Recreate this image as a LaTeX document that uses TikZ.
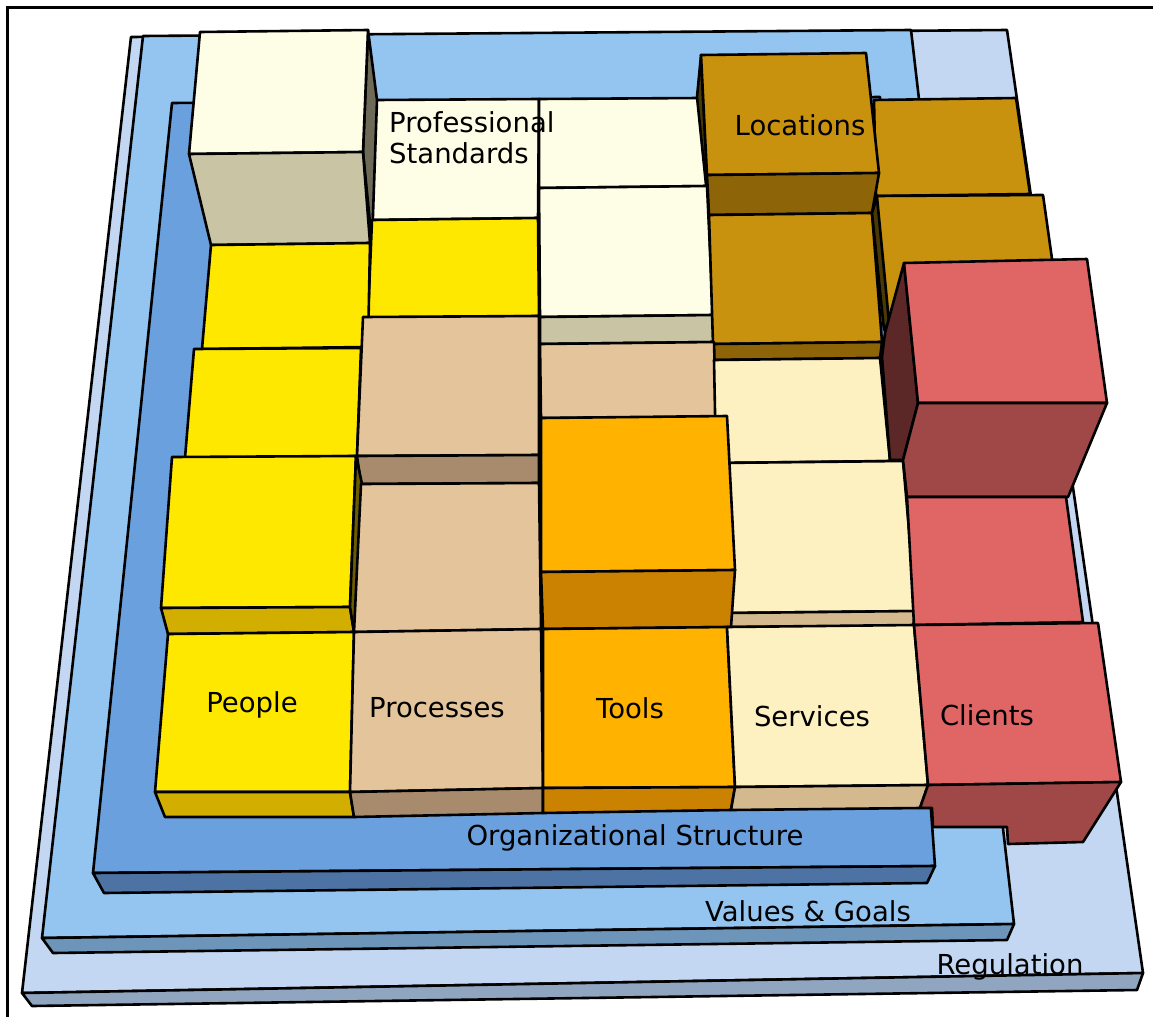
\documentclass[tikz,border=0pt]{standalone}
\usepackage{fontspec}
\setmainfont{DejaVu Sans}

\definecolor{regtop}{HTML}{C3D7F2}
\definecolor{regfront}{HTML}{8FA5C0}
\definecolor{valtop}{HTML}{93C5F0}
\definecolor{valfront}{HTML}{6D95B9}
\definecolor{orgtop}{HTML}{6AA0DE}
\definecolor{orgfront}{HTML}{4D73A5}
\definecolor{peopletop}{HTML}{FFE800}
\definecolor{peoplefront}{HTML}{D2AE00}
\definecolor{peopleside}{HTML}{6B5C00}
\definecolor{proctop}{HTML}{E4C59B}
\definecolor{procfront}{HTML}{A78B6C}
\definecolor{tooltop}{HTML}{FFB300}
\definecolor{toolfront}{HTML}{CA8200}
\definecolor{servtop}{HTML}{FDF0C1}
\definecolor{servfront}{HTML}{D4B98E}
\definecolor{clienttop}{HTML}{E06666}
\definecolor{clientfront}{HTML}{A04747}
\definecolor{clientside}{HTML}{5B2727}
\definecolor{stdtop}{HTML}{FEFDE5}
\definecolor{stdfront}{HTML}{C9C5A4}
\definecolor{stdside}{HTML}{6D6A57}
\definecolor{loctop}{HTML}{C8910E}
\definecolor{locfront}{HTML}{8D6407}
\definecolor{locside}{HTML}{4B3905}

\tikzset{
  face/.style={draw=black, line width=2.6pt, line join=round},
  label/.style={inner sep=0pt, text=black, font=\fontsize{27.5}{31}\selectfont}
}

\begin{document}
\begin{tikzpicture}[x=1pt,y=-1pt]
   \useasboundingbox (0,0) rectangle (1153,1017);
   \fill[white] (0,0) rectangle (1153,1017);
   \draw[line width=3pt] (7,1017) -- (7,7) -- (1153,7);

   % plates
   \draw[face, fill=regtop] (131,37) -- (1007,30) -- (1143,973) -- (22,993) -- cycle;
   \draw[face, fill=regfront] (22,993) -- (1143,973) -- (1137,990) -- (32,1006) -- cycle;
   \draw[face, fill=valtop] (143,36) -- (911,30) -- (1014,924) -- (42,938) -- cycle;
   \draw[face, fill=valfront] (42,938) -- (1014,924) -- (1007,940) -- (53,953) -- cycle;
   \draw[face, fill=orgtop] (172,103) -- (880,97) -- (935,866) -- (93,873) -- cycle;
   \draw[face, fill=orgfront] (93,873) -- (935,866) -- (927,883) -- (104,893) -- cycle;

   % back row
   \draw[face, fill=stdtop] (376,100) -- (539,99) -- (538,218) -- (372,220) -- cycle;
   \draw[face, fill=stdtop] (539,99) -- (700,98) -- (707,186) -- (539,188) -- cycle;
   \draw[face, fill=loctop] (874,100) -- (1016,98) -- (1030,194) -- (876,196) -- cycle;
   \draw[face, fill=stdside] (368,30) -- (377,100) -- (372,243) -- (363,152) -- cycle;
   \draw[face, fill=stdtop] (200,32) -- (368,30) -- (363,152) -- (189,154) -- cycle;
   \draw[face, fill=stdfront] (189,154) -- (363,152) -- (370,243) -- (211,245) -- cycle;
   \draw[face, fill=locside] (701,55) -- (697,97) -- (709,214) -- (707,175) -- cycle;
   \draw[face, fill=loctop] (701,55) -- (866,53) -- (879,173) -- (707,175) -- cycle;
   \draw[face, fill=locfront] (707,175) -- (879,173) -- (872,213) -- (709,215) -- cycle;

   % row 4
   \draw[face, fill=peopletop] (372,220) -- (538,218) -- (539,316) -- (368,318) -- cycle;
   \draw[face, fill=peopletop] (211,245) -- (370,243) -- (368,347) -- (202,349) -- cycle;
   \draw[face, fill=stdtop] (539,188) -- (707,186) -- (713,315) -- (540,317) -- cycle;
   \draw[face, fill=stdfront] (540,317) -- (713,315) -- (714,342) -- (540,344) -- cycle;
   \draw[face, fill=loctop] (709,215) -- (872,213) -- (882,342) -- (713,344) -- cycle;
   \draw[face, fill=locfront] (713,344) -- (882,342) -- (880,358) -- (714,360) -- cycle;
   \draw[face, fill=loctop] (876,196) -- (1043,195) -- (1062,330) -- (888,335) -- cycle;
   \draw[face, fill=locside] (872,213) -- (877,197) -- (889,322) -- (884,330) -- cycle;

   % row 3
   \draw[face, fill=peopletop] (194,349) -- (361,348) -- (357,456) -- (185,458) -- cycle;
   \draw[face, fill=proctop] (363,317) -- (539,316) -- (539,455) -- (357,456) -- cycle;
   \draw[face, fill=procfront] (357,456) -- (539,455) -- (539,483) -- (361,484) -- cycle;
   \draw[face, fill=proctop] (540,344) -- (714,342) -- (716,417) -- (541,418) -- cycle;
   \draw[face, fill=servtop] (714,360) -- (880,358) -- (890,461) -- (716,463) -- cycle;
   \draw[face, fill=servtop] (716,463) -- (903,461) -- (916,611) -- (728,613) -- cycle;
   \draw[face, fill=servfront] (728,613) -- (916,611) -- (913,626) -- (727,627) -- cycle;
   \draw[face, fill=clientside] (904,263) -- (918,403) -- (903,460) -- (890,460) -- (882,357) -- (885,333) -- cycle;
   \draw[face, fill=clienttop] (904,263) -- (1087,259) -- (1107,403) -- (918,403) -- cycle;
   \draw[face, fill=clientfront] (918,403) -- (1107,403) -- (1068,497) -- (907,497) -- (903,460) -- cycle;

   % row 2
   \draw[face, fill=peopletop] (172,457) -- (356,456) -- (350,607) -- (161,608) -- cycle;
   \draw[face, fill=peoplefront] (161,608) -- (350,607) -- (354,632) -- (168,634) -- cycle;
   \draw[face, fill=peopleside] (356,456) -- (362,484) -- (360,620) -- (354,632) -- (350,607) -- cycle;
   \draw[face, fill=proctop] (361,484) -- (539,483) -- (541,629) -- (354,632) -- cycle;
   \draw[face, fill=clienttop] (907,497) -- (1066,497) -- (1083,622) -- (914,625) -- cycle;
   \draw[face, fill=tooltop] (541,418) -- (727,416) -- (735,570) -- (541,572) -- cycle;
   \draw[face, fill=toolfront] (541,572) -- (735,570) -- (731,627) -- (543,629) -- cycle;

   % front row
   \draw[face, fill=peopletop] (168,634) -- (354,632) -- (350,792) -- (155,792) -- cycle;
   \draw[face, fill=peoplefront] (155,792) -- (350,792) -- (354,817) -- (165,817) -- cycle;
   \draw[face, fill=proctop] (354,632) -- (541,629) -- (543,788) -- (350,792) -- cycle;
   \draw[face, fill=procfront] (350,792) -- (543,788) -- (543,813) -- (354,817) -- cycle;
   \draw[face, fill=tooltop] (543,629) -- (727,627) -- (735,787) -- (543,788) -- cycle;
   \draw[face, fill=toolfront] (543,788) -- (735,787) -- (731,810) -- (543,813) -- cycle;
   \draw[face, fill=servtop] (727,627) -- (914,625) -- (928,785) -- (735,787) -- cycle;
   \draw[face, fill=servfront] (735,787) -- (928,785) -- (920,808) -- (731,810) -- cycle;
   \draw[face, fill=clienttop] (914,625) -- (1098,623) -- (1121,782) -- (928,785) -- cycle;
   \draw[face, fill=clientfront] (928,785) -- (1121,782) -- (1083,842) -- (1008,844) -- (1007,827) -- (933,827) -- (932,808) -- (920,808) -- cycle;

   % labels
   \foreach \n/\x/\y/\t in {people/252/705/People, processes/437/708/Processes,
       tools/630/708/Tools, services/812/716/Services, clients/987/715/Clients,
       orgstruct/635/838/Organizational Structure, regulation/1010/967/Regulation,
       locations/800/125/Locations}
     \node[label] (\n) at (\x,\y) {\t};
   \node[label] (valgoals) at (808,911) {Values \& Goals};
   \node[label, anchor=west, align=left] (profstd) at (389,138) {Professional\\Standards};
\end{tikzpicture}
\end{document}
